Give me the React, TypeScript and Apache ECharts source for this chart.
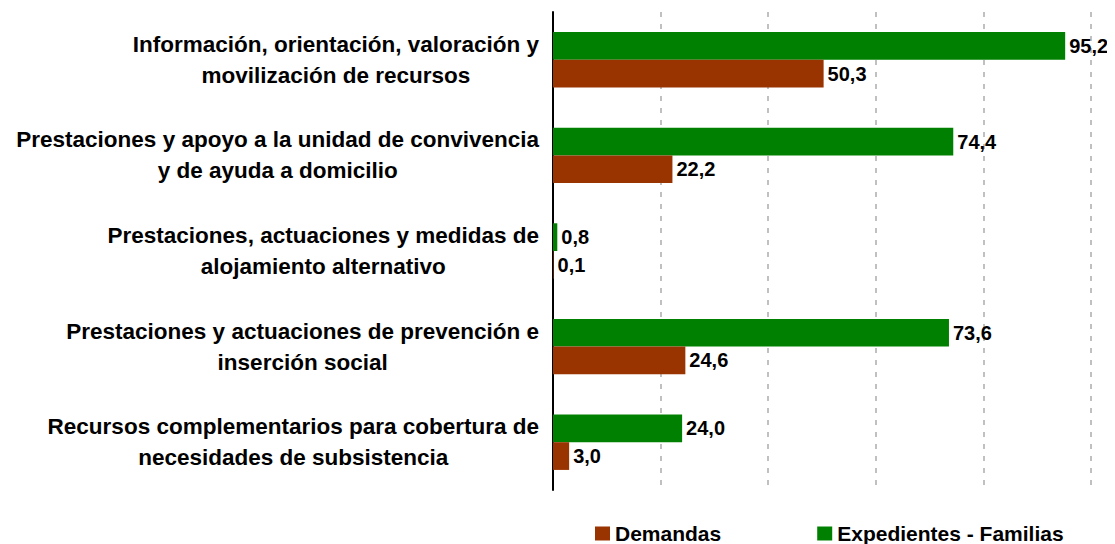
import React, { useEffect, useRef } from "react";
import * as echarts from "echarts";

const categories = [
  "Información, orientación, valoración y\nmovilización de recursos",
  "Prestaciones y apoyo a la unidad de convivencia\ny de ayuda a domicilio",
  "Prestaciones, actuaciones y medidas de\nalojamiento alternativo",
  "Prestaciones y actuaciones de prevención e\ninserción social",
  "Recursos complementarios para cobertura de\nnecesidades de subsistencia",
];
const expedientes = [95.2, 74.4, 0.8, 73.6, 24.0];
const demandas = [50.3, 22.2, 0.1, 24.6, 3.0];
const seriesNames = ["Demandas", "Expedientes - Familias"];

const FONT = "'Liberation Sans', Arial, sans-serif";

function fmt(v: number) {
  return v.toFixed(1).replace(".", ",");
}

export default function App() {
  const ref = useRef<HTMLDivElement>(null);
  useEffect(() => {
    if (!ref.current) return;
    const chart = echarts.init(ref.current, null, { renderer: "svg" });
    const label = {
      show: true,
      position: "right",
      distance: 4,
      color: "#000",
      fontWeight: "bold",
      fontSize: 20,
      fontFamily: FONT,
      formatter: (p: any) => fmt(p.value),
    };
    chart.setOption({
      animation: false,
      backgroundColor: "#fff",
      grid: { left: 545, right: 24, top: 4, bottom: 54, containLabel: false },
      legend: {
        data: seriesNames,
        left: 582,
        top: 510,
        icon: "rect",
        itemWidth: 15,
        itemHeight: 14,
        itemGap: 96,
        textStyle: { color: "#000", fontWeight: "bold", fontSize: 21, fontFamily: FONT },
      },
      xAxis: {
        type: "value",
        min: 0,
        max: 100,
        interval: 20,
        axisLabel: { show: false },
        axisLine: { show: false },
        axisTick: { show: false },
        splitLine: { show: true, lineStyle: { color: "#c0c0c0", width: 2, type: [5, 7] } },
      },
      yAxis: {
        type: "category",
        inverse: true,
        data: categories,
        axisLine: { show: true, lineStyle: { color: "#000", width: 2 } },
        axisTick: { show: false },
        axisLabel: {
          margin: 14,
          formatter: (v: string) =>
            v
              .split("\n")
              .map((s) => "{a|" + s + "}")
              .join("\n"),
          rich: {
            a: {
              align: "center",
              color: "#000",
              fontWeight: "bold",
              fontSize: 22.5,
              fontFamily: FONT,
              lineHeight: 31,
            },
          },
        },
      },
      series: [
        {
          name: "Expedientes - Familias",
          type: "bar",
          data: expedientes,
          itemStyle: { color: "#008000" },
          barGap: "0%",
          barCategoryGap: "42%",
          label,
        },
        {
          name: "Demandas",
          type: "bar",
          data: demandas,
          itemStyle: { color: "#993300" },
          barGap: "0%",
          barCategoryGap: "42%",
          label,
        },
      ],
    });
    return () => chart.dispose();
  }, []);
  return <div ref={ref} style={{ width: 1107, height: 536 }} />;
}
